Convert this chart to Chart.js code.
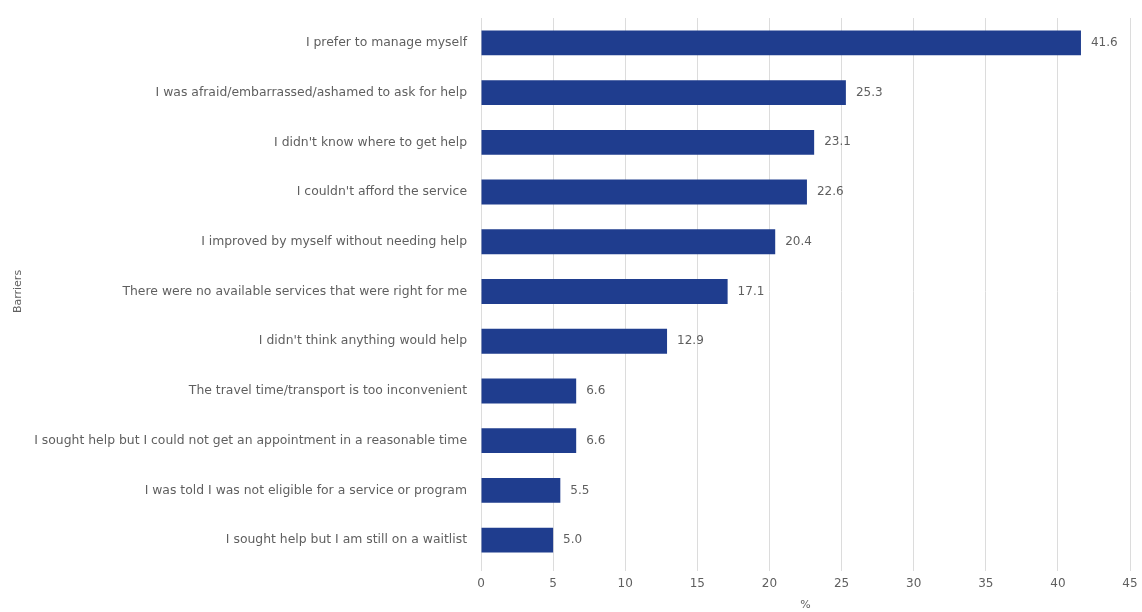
<!DOCTYPE html>
<html>
<head>
<meta charset="utf-8">
<script src="https://cdn.jsdelivr.net/npm/chart.js@4/dist/chart.umd.min.js"></script>
<style>
  html, body { margin: 0; padding: 0; background: #fff; }
  #wrap { width: 1142px; height: 612px; position: relative; }
</style>
</head>
<body>
<div id="wrap"><canvas id="barrierChart"></canvas></div>
<script>
// barriers to getting help, % of respondents
const barriers = [
    "I prefer to manage myself",
    "I was afraid/embarrassed/ashamed to ask for help",
    "I didn't know where to get help",
    "I couldn't afford the service",
    "I improved by myself without needing help",
    "There were no available services that were right for me",
    "I didn't think anything would help",
    "The travel time/transport is too inconvenient",
    "I sought help but I could not get an appointment in a reasonable time",
    "I was told I was not eligible for a service or program",
    "I sought help but I am still on a waitlist"
];
const percents = [41.6, 25.3, 23.1, 22.6, 20.4, 17.1, 12.9, 6.6, 6.6, 5.5, 5.0];
const xTicks = [0, 5, 10, 15, 20, 25, 30, 35, 40, 45];

const fontFamily = "'DejaVu Sans', 'Liberation Sans', sans-serif";
const textColor = "#5f5f5f";

// value labels at the end of each bar
const valueLabels = {
    id: "valueLabels",
    afterDatasetsDraw(chart) {
        const ctx = chart.ctx;
        const meta = chart.getDatasetMeta(0);
        ctx.save();
        ctx.font = "12px " + fontFamily;
        ctx.fillStyle = textColor;
        ctx.textAlign = "left";
        ctx.textBaseline = "middle";
        meta.data.forEach((bar, i) => {
            ctx.fillText(percents[i].toFixed(1), bar.x + 10, bar.y);
        });
        ctx.restore();
    }
};

const myChart = new Chart(document.getElementById("barrierChart"), {
    type: "bar",
    data: {
        labels: barriers,
        datasets: [{
            data: percents,
            backgroundColor: "#1f3d8e",
            barPercentage: 0.5,
            categoryPercentage: 1.0
        }]
    },
    options: {
        indexAxis: "y",
        responsive: true,
        maintainAspectRatio: false,
        animation: false,
        layout: { padding: { top: 18, right: 12, left: 0, bottom: 0 } },
        plugins: {
            legend: { display: false },
            tooltip: { enabled: false }
        },
        scales: {
            x: {
                min: 0,
                max: 45,
                afterBuildTicks: (scale) => { scale.ticks = xTicks.map(v => ({ value: v })); },
                afterFit: (scale) => {
                    scale.height = 47;
                    scale.paddingLeft = 0;
                    scale.paddingRight = 0;
                },
                grid: { color: "#dcdcdc", tickLength: 6 },
                border: { display: false },
                ticks: { color: textColor, font: { family: fontFamily, size: 12 }, padding: 6 },
                title: {
                    display: true,
                    text: "%",
                    color: textColor,
                    font: { family: fontFamily, size: 11 },
                    padding: { top: 2, bottom: 0 }
                }
            },
            y: {
                afterFit: (scale) => {
                    scale.width = 481;
                    scale.paddingTop = 0;
                    scale.paddingBottom = 0;
                },
                grid: { display: false, drawTicks: false },
                border: { display: false },
                ticks: { color: textColor, font: { family: fontFamily, size: 12.4 }, padding: 14 },
                title: {
                    display: true,
                    text: "Barriers",
                    color: textColor,
                    font: { family: fontFamily, size: 11 },
                    padding: { top: 12, bottom: 0 }
                }
            }
        }
    },
    plugins: [valueLabels]
});
</script>
</body>
</html>
